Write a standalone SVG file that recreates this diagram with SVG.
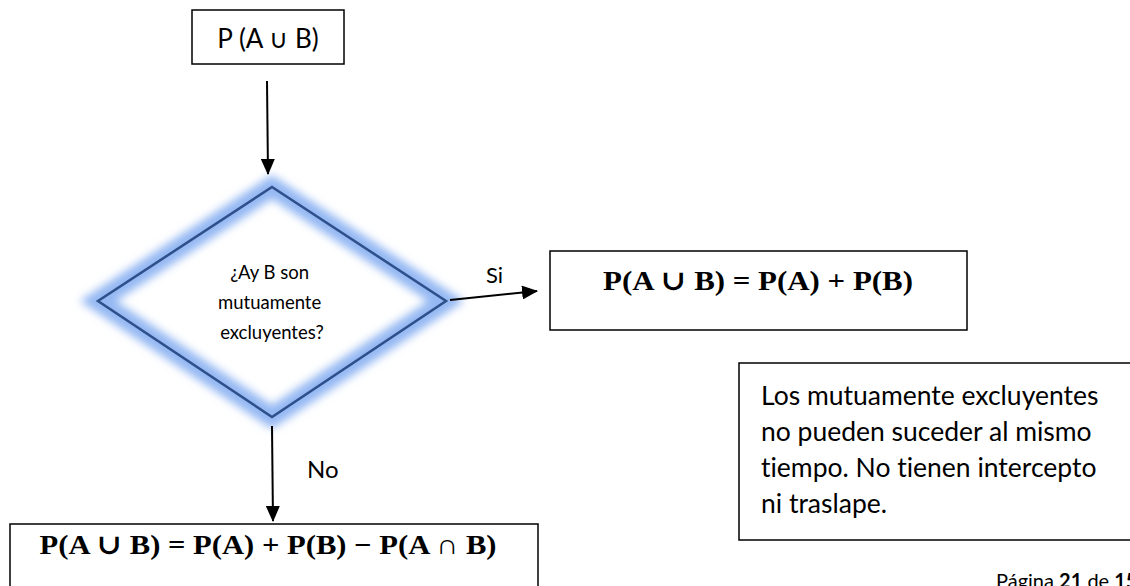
<svg xmlns="http://www.w3.org/2000/svg" width="1130" height="586" viewBox="0 0 1130 586">
  <style>
    .box { fill: #ffffff; stroke: #000000; stroke-width: 1.5; }
    .txt { font-family: Lato, "Open Sans", "Noto Sans", sans-serif; fill: #000000; font-variant-ligatures: none; }
    .math { font-family: "Liberation Serif", "DejaVu Serif", serif; font-weight: bold; fill: #000000; }
    .conn { stroke: #000000; stroke-width: 2; fill: none; }
  </style>
  <defs>
    <marker id="ah" markerWidth="16" markerHeight="14" refX="15" refY="7" orient="auto" markerUnits="userSpaceOnUse">
      <path d="M0,0 L16,7 L0,14 z" fill="#000000"/>
    </marker>
    <filter id="glow" x="-20%" y="-20%" width="140%" height="140%">
      <feGaussianBlur stdDeviation="4.5"/>
    </filter>
  </defs>
  <rect width="1130" height="586" fill="#ffffff"/>

  <g id="start">
    <rect class="box" x="192" y="10" width="152" height="54"/>
    <text class="txt" x="268" y="48" font-size="26" text-anchor="middle">P (A ∪ B)</text>
  </g>

  <g id="decision">
    <polygon points="272,187 446,301 272,417 98,301" fill="#ffffff"/>
    <polygon points="272,187 446,301 272,417 98,301" fill="none" stroke="#94b8f3" stroke-width="20" filter="url(#glow)"/>
    <polygon points="272,187 446,301 272,417 98,301" fill="none" stroke="#2f4f8a" stroke-width="2.5"/>
    <text class="txt" font-size="18.5" text-anchor="middle">
      <tspan x="272" y="279">¿Ay B son</tspan>
      <tspan x="272" y="309">mutuamente</tspan>
      <tspan x="272" y="339">excluyentes?</tspan>
    </text>
  </g>

  <g id="yes-result">
    <rect class="box" x="550" y="251" width="417" height="79"/>
    <text class="math" x="758" y="290" font-size="28" text-anchor="middle" textLength="310" lengthAdjust="spacingAndGlyphs">P(A ∪ B) = P(A) + P(B)</text>
  </g>

  <g id="no-result">
    <rect class="box" x="10" y="524" width="528" height="80"/>
    <text class="math" x="268" y="554" font-size="28" text-anchor="middle" textLength="457" lengthAdjust="spacingAndGlyphs">P(A ∪ B) = P(A) + P(B) − P(A ∩ B)</text>
  </g>

  <g id="note">
    <rect class="box" x="739" y="363" width="400" height="177"/>
    <text class="txt" font-size="26.5">
      <tspan x="761" y="405">Los mutuamente excluyentes</tspan>
      <tspan x="761" y="441">no pueden suceder al mismo</tspan>
      <tspan x="761" y="477">tiempo. No tienen intercepto</tspan>
      <tspan x="761" y="513">ni traslape.</tspan>
    </text>
  </g>

  <g id="connectors">
    <line class="conn" x1="267" y1="81" x2="268" y2="174" marker-end="url(#ah)"/>
    <line class="conn" x1="450" y1="300" x2="537" y2="291" marker-end="url(#ah)"/>
    <line class="conn" x1="272" y1="426" x2="273" y2="521" marker-end="url(#ah)"/>
    <text class="txt" x="486" y="283" font-size="22">Si</text>
    <text class="txt" x="307" y="478" font-size="24">No</text>
  </g>

  <g id="footer">
    <text class="txt" x="996" y="588" font-size="20">Página <tspan font-weight="bold">21</tspan> de <tspan font-weight="bold">15</tspan></text>
  </g>
</svg>
